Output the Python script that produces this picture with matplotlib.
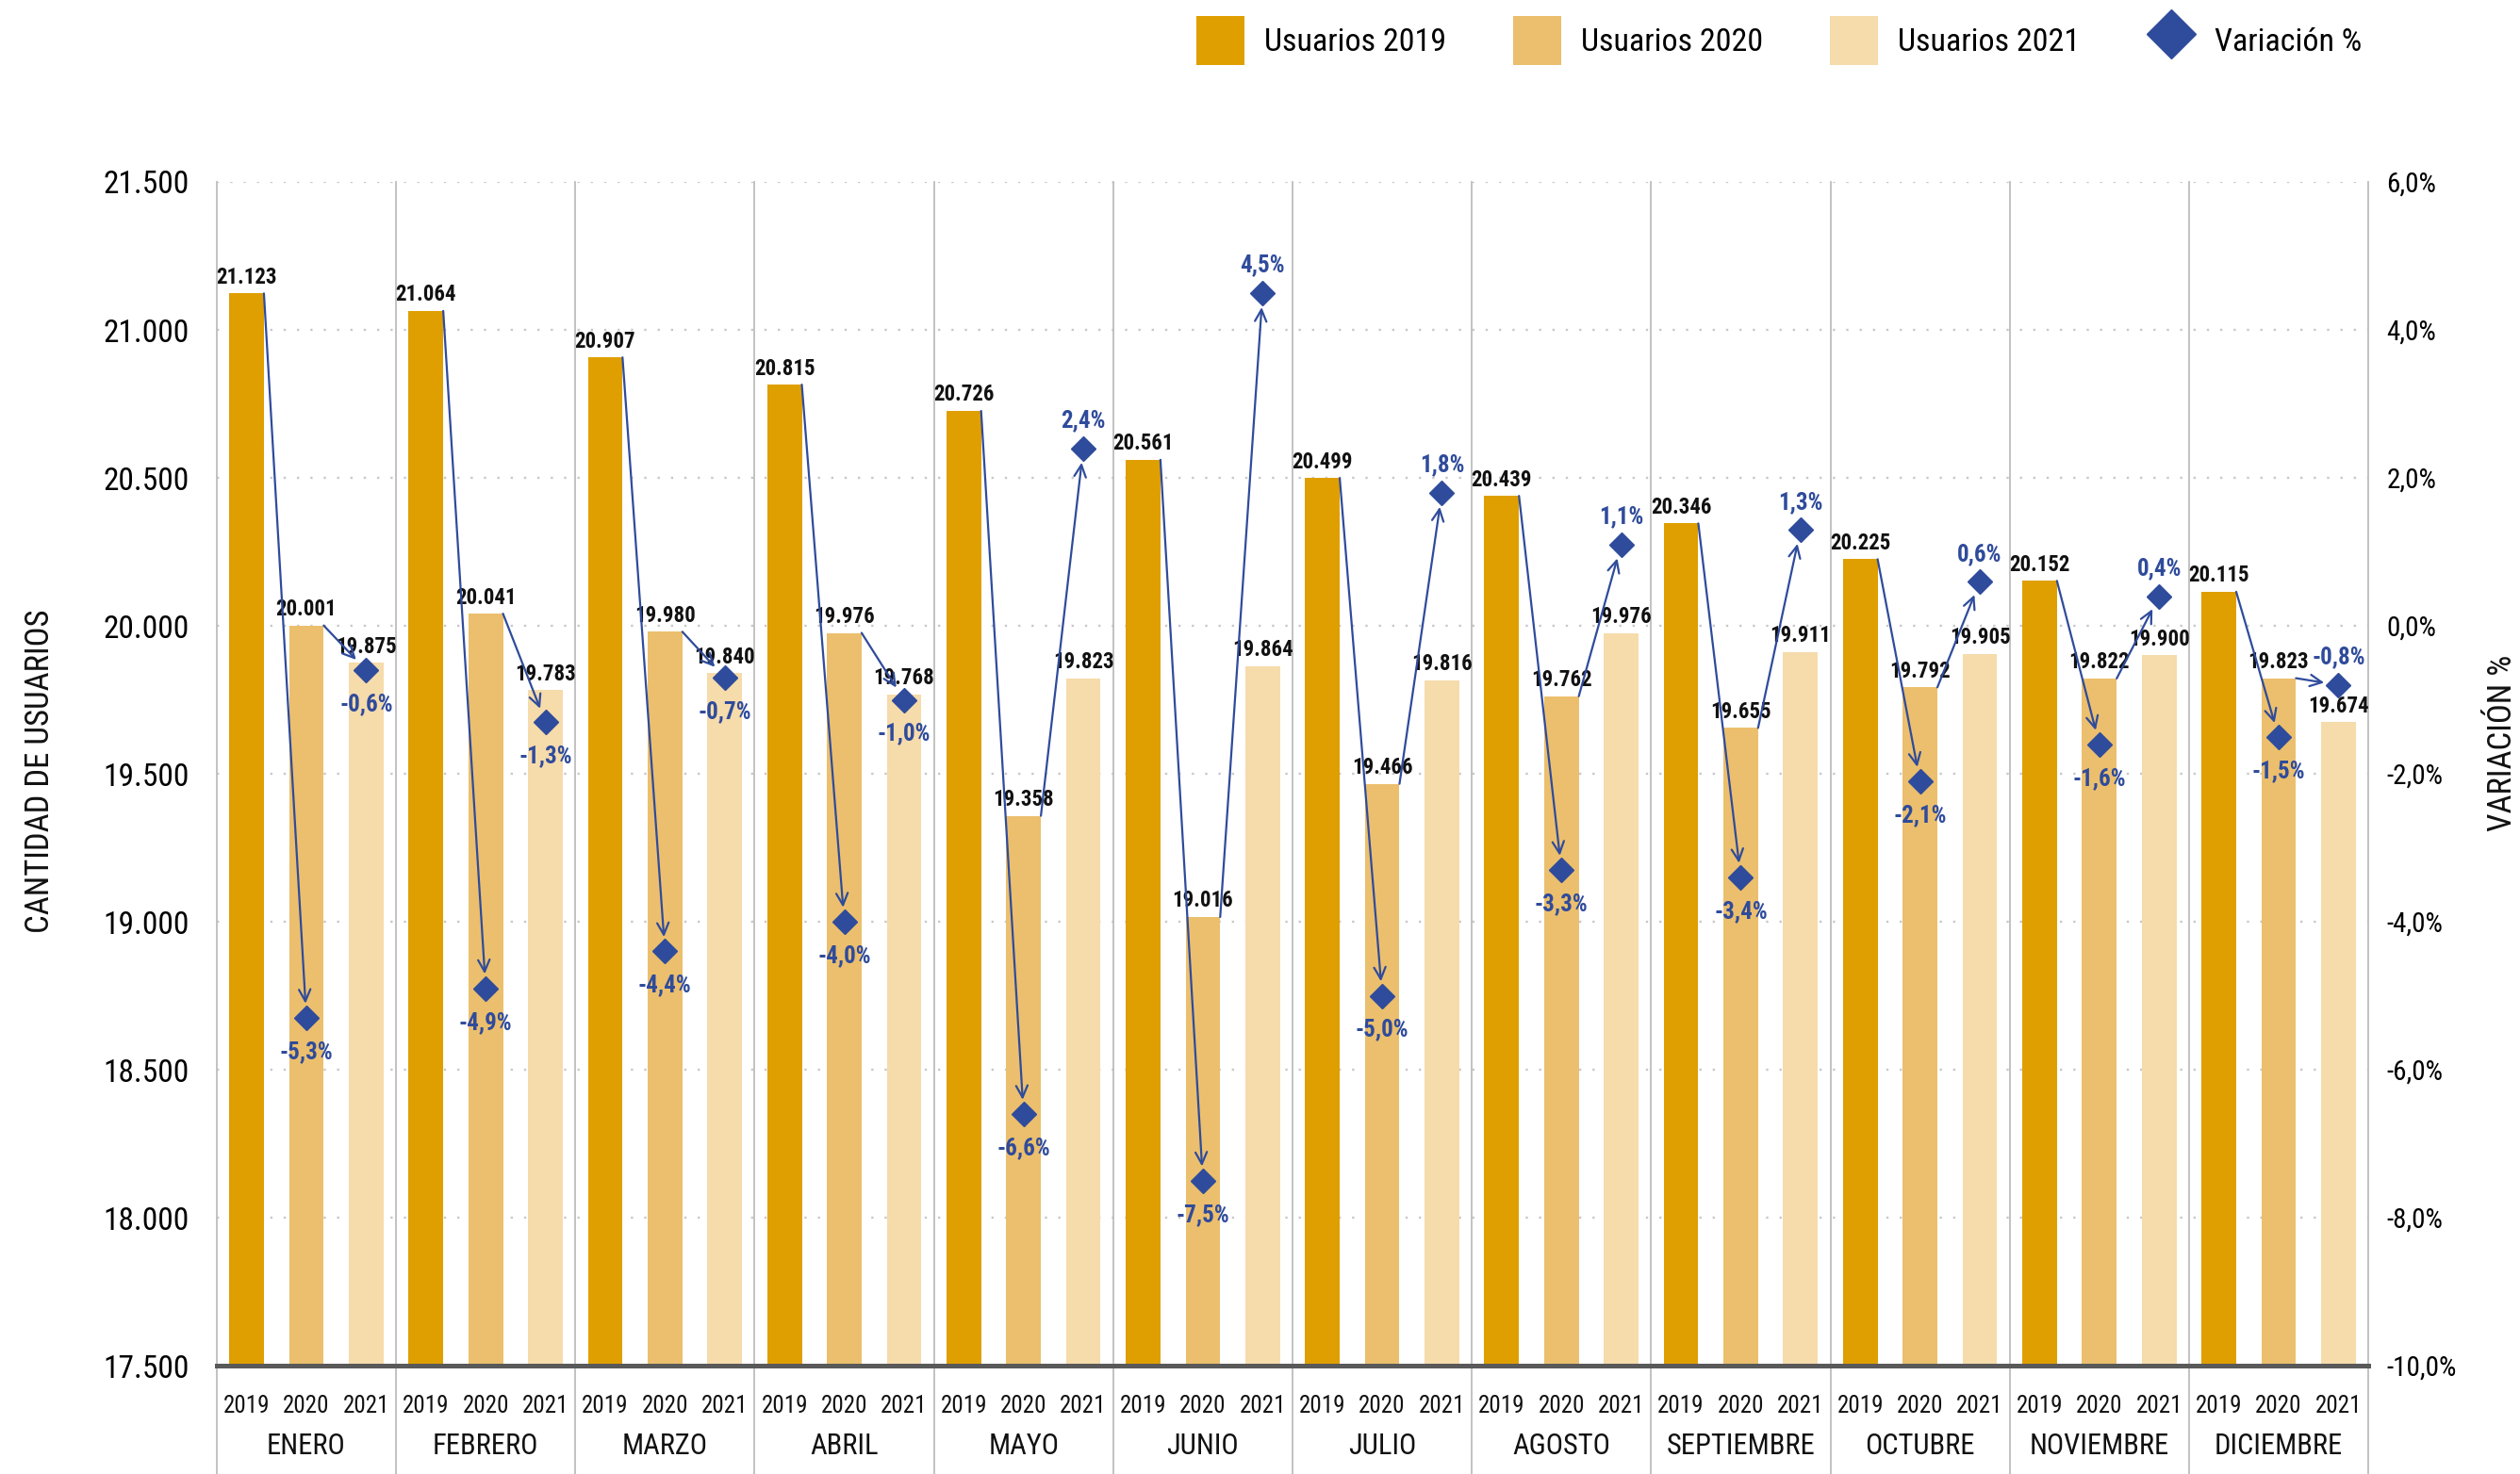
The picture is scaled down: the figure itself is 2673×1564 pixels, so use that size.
import numpy as np
import matplotlib
matplotlib.use("Agg")
import matplotlib.pyplot as plt
from matplotlib.patches import Patch
from matplotlib.lines import Line2D
import matplotlib.transforms as mtransforms

plt.rcParams['font.family'] = ['Roboto Condensed', 'Liberation Sans Narrow', 'Roboto', 'DejaVu Sans']

# ---------------- data ----------------
months = ["ENERO", "FEBRERO", "MARZO", "ABRIL", "MAYO", "JUNIO", "JULIO",
          "AGOSTO", "SEPTIEMBRE", "OCTUBRE", "NOVIEMBRE", "DICIEMBRE"]
years = ["2019", "2020", "2021"]
users_2019 = [21123, 21064, 20907, 20815, 20726, 20561, 20499, 20439, 20346, 20225, 20152, 20115]
users_2020 = [20001, 20041, 19980, 19976, 19358, 19016, 19466, 19762, 19655, 19792, 19822, 19823]
users_2021 = [19875, 19783, 19840, 19768, 19823, 19864, 19816, 19976, 19911, 19905, 19900, 19674]
var_2020 = [-5.3, -4.9, -4.4, -4.0, -6.6, -7.5, -5.0, -3.3, -3.4, -2.1, -1.6, -1.5]
var_2021 = [-0.6, -1.3, -0.7, -1.0, 2.4, 4.5, 1.8, 1.1, 1.3, 0.6, 0.4, -0.8]
legend_labels = ["Usuarios 2019", "Usuarios 2020", "Usuarios 2021", "Variación %"]

# ---------------- style ----------------
c19, c20, c21 = "#DF9F00", "#EBBF6D", "#F6DBAB"
blue = "#2F4B9B"
sep_col = "#BDBDBD"
bar_w = 0.58

fig = plt.figure(figsize=(26.73, 15.64), dpi=100)
ax = fig.add_axes([0.0860, 0.0735, 0.9398 - 0.0860, 0.8766 - 0.0735])
ax2 = ax.twinx()

n = len(months)
base = np.arange(n) * 3
series = [users_2019, users_2020, users_2021]
colors = [c19, c20, c21]
for j, (vals, col) in enumerate(zip(series, colors)):
    ax.bar(base + j, vals, width=bar_w, color=col, zorder=2)

ax.set_xlim(-0.5, 3 * n - 0.5)
ax.set_ylim(17500, 21500)
ax.set_yticks(np.arange(17500, 21501, 500))
ax.set_yticklabels([f"{v:,.0f}".replace(",", ".") for v in np.arange(17500, 21501, 500)])
ax.set_xticks([])
ax.set_axisbelow(True)
ax.yaxis.grid(True, linestyle=(0, (1, 5)), linewidth=1.7, color="#C8C8C8", zorder=0)
ax.tick_params(axis="y", length=0, pad=21, labelsize=24)
for s in ax.spines.values():
    s.set_visible(False)

ax2.set_ylim(-10, 6)
ax2.set_yticks(np.arange(-10, 6.01, 2))
ax2.set_yticklabels([f"{v:.1f}%".replace(".", ",") for v in np.arange(-10, 6.01, 2)])
ax2.tick_params(axis="y", length=0, pad=14, labelsize=21)
for s in ax2.spines.values():
    s.set_visible(False)

# bottom thick axis line
ax.axhline(17500, color="#595959", linewidth=3.6, zorder=5, clip_on=False)

# month separators extending to figure bottom
trans = mtransforms.blended_transform_factory(ax.transData, ax.transAxes)
y_fig_bottom = -0.0735 / (0.8766 - 0.0735)
for m in range(n + 1):
    ax.plot([3 * m - 0.5] * 2, [y_fig_bottom, 1.0], transform=trans, clip_on=False,
            color=sep_col, linewidth=1.3, zorder=1)

# x labels: years and months
for m in range(n):
    for j, yl in enumerate(years):
        ax.text(3 * m + j, -0.0342, yl, transform=trans, ha="center", va="center",
                fontsize=18, color="#111111")
    ax.text(3 * m + 1, -0.0677, months[m], transform=trans, ha="center", va="center",
            fontsize=22, color="#111111")

# bar value labels
for j, vals in enumerate(series):
    for m, v in enumerate(vals):
        ax.annotate(f"{v:,.0f}".replace(",", "."), (3 * m + j, v), xytext=(0, 4),
                    textcoords="offset points", ha="center", va="bottom",
                    fontsize=16.5, fontweight="bold", color="#111111", zorder=6)

# variation diamonds, arrows, labels
var_series = [var_2020, var_2021]
for k, vars_ in enumerate(var_series):
    j = k + 1
    xs = base + j
    ax2.plot(xs, vars_, linestyle="none", marker="D", markersize=13.5,
             color=blue, zorder=8)
    src = series[k]
    for m in range(n):
        x_start = 3 * m + k + bar_w / 2
        ax2.annotate("", xy=(xs[m], vars_[m]), xycoords="data",
                     xytext=(x_start, src[m]), textcoords=ax.transData,
                     arrowprops=dict(arrowstyle="->,head_length=0.45,head_width=0.22",
                                     color=blue, lw=1.6, shrinkA=0, shrinkB=11,
                                     mutation_scale=20),
                     zorder=7)
        v = vars_[m]
        above = v > 0 or (k == 1 and m == n - 1)
        off = 21 if above else -26
        ax2.annotate(f"{v:.1f}%".replace(".", ","), (xs[m], v), xytext=(0, off),
                     textcoords="offset points", ha="center", va="center",
                     fontsize=18, fontweight="bold", color=blue, zorder=9)

# axis titles
fig.text(0.016, 0.477, "CANTIDAD DE USUARIOS", rotation=90, ha="center", va="center",
         fontsize=25, color="#111111")
fig.text(0.993, 0.496, "VARIACIÓN %", rotation=90, ha="center", va="center",
         fontsize=25, color="#111111")

# legend
handles = [Patch(facecolor=c19), Patch(facecolor=c20), Patch(facecolor=c21),
           Line2D([], [], linestyle="none", marker="D", markersize=26, color=blue)]
fig.legend(handles, legend_labels, loc="center", bbox_to_anchor=(0.706, 0.9725),
           ncol=4, frameon=False, fontsize=24.5, handlelength=1.5, handleheight=1.93,
           handletextpad=0.6, columnspacing=2.1, borderaxespad=0, borderpad=0)

fig.savefig("out.png", dpi=100, facecolor="white")
